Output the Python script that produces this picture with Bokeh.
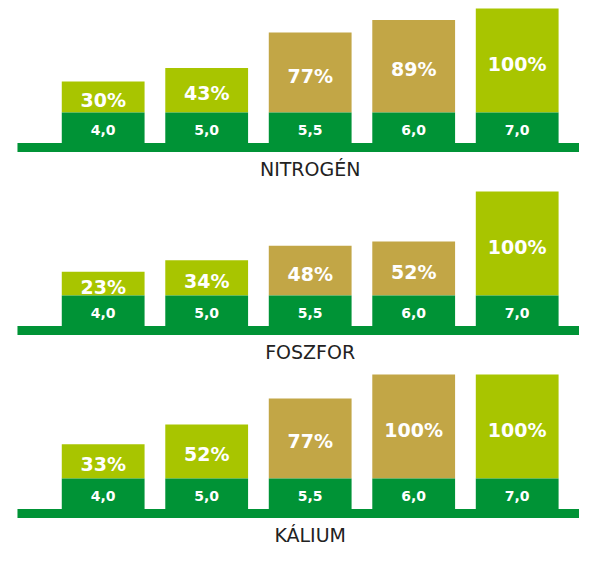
from bokeh.plotting import figure
from bokeh.models import ColumnDataSource, Range1d
from bokeh.core.properties import value
from bokeh.embed import file_html
from bokeh.resources import INLINE

# ---- data ----
ph_labels = ["4,0", "5,0", "5,5", "6,0", "7,0"]
nutrients = ["NITROGÉN", "FOSZFOR", "KÁLIUM"]
nitrogen = [30, 43, 77, 89, 100]
foszfor = [23, 34, 48, 52, 100]
kalium = [33, 52, 77, 100, 100]
series = [nitrogen, foszfor, kalium]

LIME = "#A8C500"
GOLD = "#C2A646"
DARK = "#009336"
bar_colors = [LIME, LIME, GOLD, GOLD, LIME]

# ---- layout constants (data units: 1 unit = 1 %) ----
PANEL_TOP_ZERO = 420.2
PANEL_STEP = 175.96
BOX_H = 29.3
BASE_H = 8.7
TITLE_GAP = 15.9
BAR_W = 0.8

W, H = 579, 549
p = figure(width=W, height=H, output_backend="svg", toolbar_location=None,
           x_range=Range1d(-0.992, 4.602), y_range=Range1d(0, 528),
           min_border=0, outline_line_color=None)
p.axis.visible = False
p.grid.visible = False
p.background_fill_color = "white"
p.border_fill_color = "white"

xs = list(range(len(ph_labels)))

for k, vals in enumerate(series):
    zero = PANEL_TOP_ZERO - k * PANEL_STEP
    box_bottom = zero - BOX_H
    base_bottom = box_bottom - BASE_H

    # baseline
    p.quad(left=[-0.828], right=[6], top=[box_bottom], bottom=[base_bottom],
           fill_color=DARK, line_color=None)

    src = ColumnDataSource(dict(
        x=xs,
        top=[zero + v for v in vals],
        zero=[zero] * len(vals),
        boxb=[box_bottom] * len(vals),
        color=bar_colors,
        pct=[f"{v}%" for v in vals],
        pct_y=[zero + v / 2 - 2.9 for v in vals],
        ph=ph_labels,
        ph_y=[zero - BOX_H / 2 - 2.0] * len(vals),
    ))
    # colored top segment
    p.vbar(x="x", width=BAR_W, top="top", bottom="zero", source=src,
           fill_color="color", line_color=None)
    # dark green pH box
    p.vbar(x="x", width=BAR_W, top="zero", bottom="boxb", source=src,
           fill_color=DARK, line_color=None)

    p.text(x="x", y="pct_y", text="pct", source=src,
           text_font=value("DejaVu Sans"), text_font_style="bold",
           text_font_size="19px", text_color="white",
           text_align="center", text_baseline="middle")
    p.text(x="x", y="ph_y", text="ph", source=src,
           text_font=value("DejaVu Sans"), text_font_style="bold",
           text_font_size="14px", text_color="white",
           text_align="center", text_baseline="middle")

    p.text(x=[2], y=[base_bottom - TITLE_GAP], text=[nutrients[k]],
           text_font=value("DejaVu Sans"), text_font_size="19px",
           text_color="#222222", text_align="center", text_baseline="middle")

open("out.html", "w").write(file_html(p, INLINE))
